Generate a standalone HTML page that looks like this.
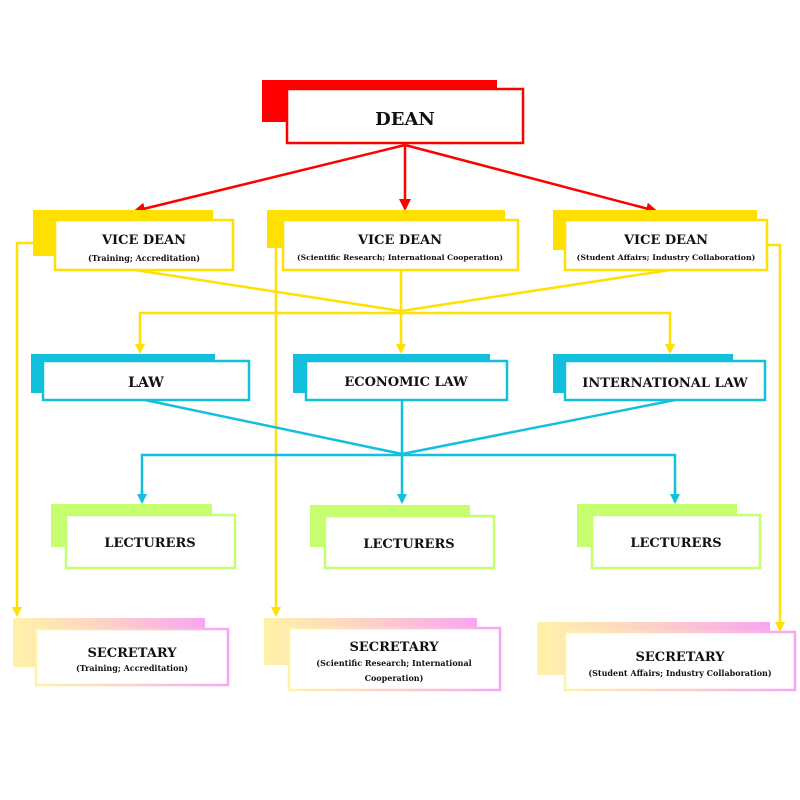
<!DOCTYPE html>
<html><head><meta charset="utf-8"><style>
html,body{margin:0;padding:0;background:#fff;width:800px;height:800px;overflow:hidden}
text{font-family:"DejaVu Serif","Liberation Serif",serif;font-weight:bold;fill:#111;text-anchor:middle}
</style></head><body>
<svg width="800" height="800" viewBox="0 0 800 800" xmlns="http://www.w3.org/2000/svg">
<defs>
<linearGradient id="g" x1="0" x2="1" y1="0" y2="0"><stop offset="0" stop-color="#FFF2A8"/><stop offset="0.5" stop-color="#FDD0C8"/><stop offset="1" stop-color="#F8A6F2"/></linearGradient>
<linearGradient id="gs" x1="0" x2="1" y1="0" y2="0"><stop offset="0" stop-color="#FFF2A8"/><stop offset="0.5" stop-color="#FDD0C8"/><stop offset="1" stop-color="#F8A6F2"/></linearGradient>
<marker id="ar" markerWidth="12" markerHeight="12" refX="10" refY="6" orient="auto" markerUnits="userSpaceOnUse"><path d="M0,0 L12,6 L0,12 z" fill="#FF0000"/></marker>
<marker id="ay" markerWidth="10" markerHeight="10" refX="8" refY="5" orient="auto" markerUnits="userSpaceOnUse"><path d="M0,0 L10,5 L0,10 z" fill="#FFE000"/></marker>
<marker id="ab" markerWidth="10" markerHeight="10" refX="8" refY="5" orient="auto" markerUnits="userSpaceOnUse"><path d="M0,0 L10,5 L0,10 z" fill="#12C0DE"/></marker>
</defs>

<g stroke="#FFE000" stroke-width="2.5" fill="none">
<polyline points="33,243 17,243 17,615" marker-end="url(#ay)"/>
<polyline points="276,225 276,615" marker-end="url(#ay)"/>
<polyline points="767,245 780,245 780,630" marker-end="url(#ay)"/>
</g>

<rect x="262" y="80" width="235" height="42" fill="#FF0000"/>
<rect x="287" y="89" width="236" height="54" fill="#fff" stroke="#FF0000" stroke-width="2.5"/>
<text x="405" y="125" font-size="18">DEAN</text>
<g stroke="#FF0000" stroke-width="2.5">
<line x1="405" y1="145" x2="135" y2="211" marker-end="url(#ar)"/>
<line x1="405" y1="145" x2="405" y2="209" marker-end="url(#ar)"/>
<line x1="405" y1="145" x2="656" y2="211" marker-end="url(#ar)"/>
</g>

<rect x="33" y="210" width="180" height="46" fill="#FFE000"/>
<rect x="55" y="220" width="178" height="50" fill="#fff" stroke="#FFE000" stroke-width="2.5"/>
<text x="144" y="244" font-size="13">VICE DEAN</text>
<text x="144" y="261" font-size="8">(Training; Accreditation)</text>

<rect x="267" y="210" width="238" height="38" fill="#FFE000"/>
<rect x="283" y="220" width="235" height="50" fill="#fff" stroke="#FFE000" stroke-width="2.5"/>
<text x="400" y="244" font-size="13">VICE DEAN</text>
<text x="400" y="260" font-size="7.6">(Scientific Research; International Cooperation)</text>

<rect x="553" y="210" width="204" height="40" fill="#FFE000"/>
<rect x="565" y="220" width="202" height="50" fill="#fff" stroke="#FFE000" stroke-width="2.5"/>
<text x="666" y="244" font-size="13">VICE DEAN</text>
<text x="666" y="260" font-size="7.8">(Student Affairs; Industry Collaboration)</text>

<g stroke="#FFE000" stroke-width="2.5" fill="none">
<line x1="135" y1="270" x2="401" y2="311"/>
<line x1="670" y1="270" x2="401" y2="311"/>
<line x1="401" y1="270" x2="401" y2="352" marker-end="url(#ay)"/>
<polyline points="140,352 140,313 670,313 670,352"/>
<line x1="140" y1="340" x2="140" y2="352" marker-end="url(#ay)"/>
<line x1="670" y1="340" x2="670" y2="352" marker-end="url(#ay)"/>
</g>

<rect x="31" y="354" width="184" height="39" fill="#12C0DE"/>
<rect x="43" y="361" width="206" height="39" fill="#fff" stroke="#12C0DE" stroke-width="2.5"/>
<text x="146" y="387" font-size="14">LAW</text>
<rect x="293" y="354" width="197" height="39" fill="#12C0DE"/>
<rect x="306" y="361" width="201" height="39" fill="#fff" stroke="#12C0DE" stroke-width="2.5"/>
<text x="406" y="386" font-size="13">ECONOMIC LAW</text>
<rect x="553" y="354" width="180" height="39" fill="#12C0DE"/>
<rect x="565" y="361" width="200" height="39" fill="#fff" stroke="#12C0DE" stroke-width="2.5"/>
<text x="665" y="387" font-size="13">INTERNATIONAL LAW</text>

<g stroke="#12C0DE" stroke-width="2.5" fill="none">
<line x1="145" y1="400" x2="402" y2="454"/>
<line x1="675" y1="400" x2="402" y2="454"/>
<line x1="402" y1="400" x2="402" y2="502" marker-end="url(#ab)"/>
<polyline points="142,502 142,455 675,455 675,502"/>
<line x1="142" y1="490" x2="142" y2="502" marker-end="url(#ab)"/>
<line x1="675" y1="490" x2="675" y2="502" marker-end="url(#ab)"/>
</g>

<rect x="51" y="504" width="161" height="43" fill="#C5FF70"/>
<rect x="66" y="515" width="169" height="53" fill="#fff" stroke="#C5FF70" stroke-width="2.5"/>
<text x="150" y="547" font-size="13">LECTURERS</text>
<rect x="310" y="505" width="160" height="42" fill="#C5FF70"/>
<rect x="325" y="516" width="169" height="52" fill="#fff" stroke="#C5FF70" stroke-width="2.5"/>
<text x="409" y="548" font-size="13">LECTURERS</text>
<rect x="577" y="504" width="160" height="43" fill="#C5FF70"/>
<rect x="592" y="515" width="168" height="53" fill="#fff" stroke="#C5FF70" stroke-width="2.5"/>
<text x="676" y="547" font-size="13">LECTURERS</text>

<rect x="13" y="618" width="192" height="49" fill="url(#gs)"/>
<rect x="36" y="629" width="192" height="56" fill="#fff" stroke="url(#g)" stroke-width="2.5"/>
<text x="132" y="657" font-size="13">SECRETARY</text>
<text x="132" y="671" font-size="8">(Training; Accreditation)</text>

<rect x="264" y="618" width="213" height="47" fill="url(#gs)"/>
<rect x="289" y="628" width="211" height="62" fill="#fff" stroke="url(#g)" stroke-width="2.5"/>
<text x="394" y="651" font-size="13">SECRETARY</text>
<text x="394" y="666" font-size="8">(Scientific Research; International</text>
<text x="394" y="681" font-size="8">Cooperation)</text>

<rect x="537" y="622" width="233" height="53" fill="url(#gs)"/>
<rect x="565" y="632" width="230" height="58" fill="#fff" stroke="url(#g)" stroke-width="2.5"/>
<text x="680" y="661" font-size="13">SECRETARY</text>
<text x="680" y="676" font-size="8">(Student Affairs; Industry Collaboration)</text>
</svg>
</body></html>
